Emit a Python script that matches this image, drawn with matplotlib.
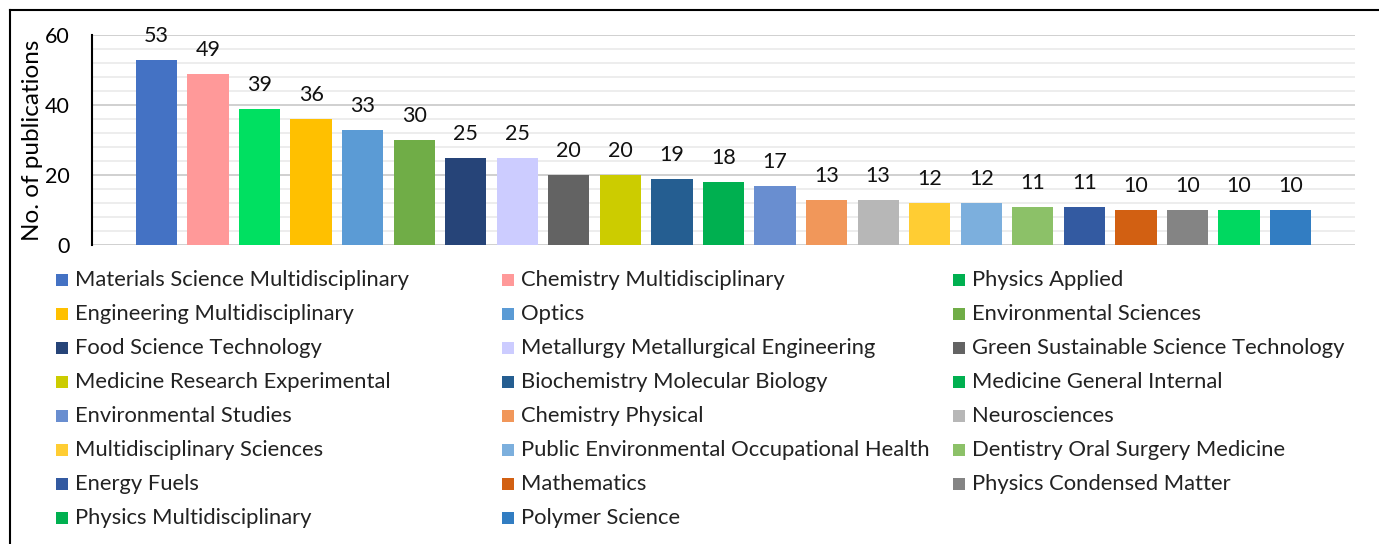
import matplotlib.pyplot as plt
from matplotlib.lines import Line2D
from matplotlib.patches import Rectangle
import numpy as np

plt.rcParams['font.family'] = ['Lato', 'DejaVu Sans']

# publication counts per research area
categories = [
    "Materials Science Multidisciplinary", "Chemistry Multidisciplinary", "Physics Applied",
    "Engineering Multidisciplinary", "Optics", "Environmental Sciences",
    "Food Science Technology", "Metallurgy Metallurgical Engineering", "Green Sustainable Science Technology",
    "Medicine Research Experimental", "Biochemistry Molecular Biology", "Medicine General Internal",
    "Environmental Studies", "Chemistry Physical", "Neurosciences",
    "Multidisciplinary Sciences", "Public Environmental Occupational Health", "Dentistry Oral Surgery Medicine",
    "Energy Fuels", "Mathematics", "Physics Condensed Matter",
    "Physics Multidisciplinary", "Polymer Science",
]
counts = [53, 49, 39, 36, 33, 30, 25, 25, 20, 20, 19, 18, 17, 13, 13, 12, 12, 11, 11, 10, 10, 10, 10]

bar_colors = [
    "#4472C4", "#FF9999", "#00E061", "#FFC000", "#5B9BD5", "#70AD47",
    "#264478", "#CCCCFF", "#636363", "#CCCC00", "#255E91", "#00B050",
    "#698ED0", "#F1975A", "#B7B7B7", "#FFCD33", "#7CAFDD", "#8CC168",
    "#335AA1", "#D26012", "#848484", "#00D860", "#327DC2",
]
legend_colors = list(bar_colors)
legend_colors[2] = "#00B050"
legend_colors[21] = "#00B050"

W, H = 1379, 544
fig = plt.figure(figsize=(W / 100, H / 100), dpi=100)

# axes box in pixels: x 92..1355, y 35..245 (from top)
ax = fig.add_axes([92 / W, 1 - 245 / H, (1355 - 92) / W, (245 - 35) / H])

x = np.arange(len(counts))
ax.bar(x, counts, width=0.8, color=bar_colors, zorder=3)
for xi, v in zip(x, counts):
    ax.annotate(str(v), (xi, v), xytext=(0, 17), textcoords="offset points",
                ha="center", va="center", fontsize=15.5, color="#111111")

ax.set_xlim(-1.25, len(counts) - 1 + 1.25)
ax.set_ylim(0, 60)
ax.set_yticks([0, 20, 40, 60])
ax.set_yticks(np.arange(0, 61, 4), minor=True)
ax.set_xticks([])
ax.tick_params(axis="y", which="both", length=0, labelsize=15.5, pad=16)
ax.grid(axis="y", which="major", color="#D0D0D0", lw=1.4, zorder=0)
ax.grid(axis="y", which="minor", color="#EAEAEA", lw=1.2, zorder=0)
for s in ["top", "right", "bottom"]:
    ax.spines[s].set_visible(False)
ax.spines["left"].set_linewidth(1.5)
ax.set_ylabel("No. of publications", fontsize=17.5, va="center")
ax.yaxis.set_label_coords((33 - 92) / (1355 - 92), 0.5)

# legend laid out in rows of three, like the original
col_x = [56, 502, 953]
row_y0, row_step = 280, 34
for i, (name, c) in enumerate(zip(categories, legend_colors)):
    r, k = divmod(i, 3)
    px, py = col_x[k], row_y0 + r * row_step
    fig.add_artist(Rectangle((px / W, 1 - (py + 6) / H), 12 / W, 12 / H,
                             transform=fig.transFigure, color=c, lw=0))
    fig.text((px + 19) / W, 1 - py / H, name, fontsize=15.8, va="center", ha="left", color="#222222")

# outer frame (left and top edges visible)
fig.add_artist(Line2D([10 / W, 10 / W], [0, 1 - 10 / H], color="black", lw=1.5, transform=fig.transFigure))
fig.add_artist(Line2D([10 / W, 1], [1 - 10 / H, 1 - 10 / H], color="black", lw=1.5, transform=fig.transFigure))

fig.savefig("out.png", dpi=100)
